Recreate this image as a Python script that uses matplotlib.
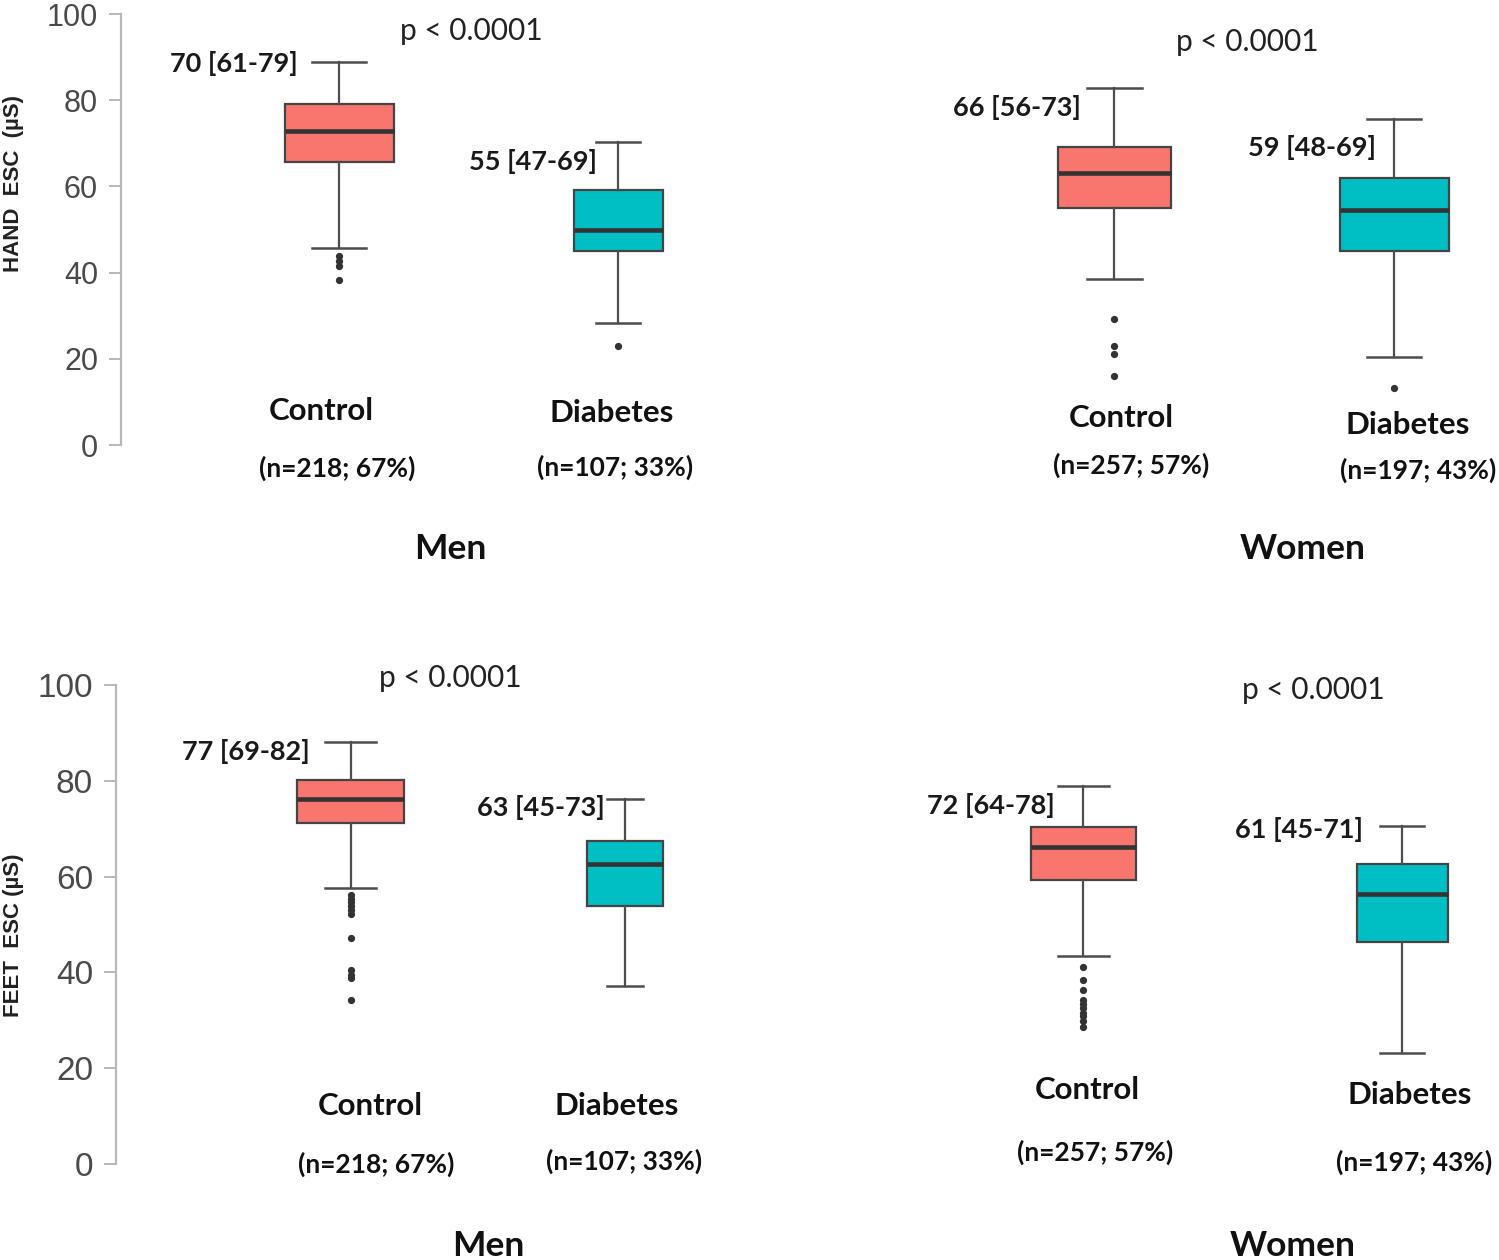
import matplotlib
matplotlib.use("Agg")
import matplotlib.pyplot as plt

W, H = 1499, 1260

groups = ["Control", "Diabetes"]
box_colors = ["#F8766D", "#00BFC4"]
yticks = [0, 20, 40, 60, 80, 100]
p_text = "p < 0.0001"

# [whislo, q1, med, q3, whishi] (µS)
hand_men = [[45.8, 65.7, 72.9, 79.2, 88.8], [28.4, 45.0, 49.9, 59.2, 70.4]]
hand_men_out = [[43.9, 42.8, 41.5, 38.3], [23.0]]
hand_women = [[38.4, 55.1, 63.2, 69.2, 82.9], [20.4, 44.9, 54.5, 61.9, 75.6]]
hand_women_out = [[29.2, 22.9, 21.1, 16.0], [13.2]]
feet_men = [[57.7, 71.1, 76.3, 80.1, 88.0], [37.2, 53.9, 62.7, 67.5, 76.3]]
feet_men_out = [[56.2, 55.4, 54.6, 53.8, 53.0, 52.2, 47.2, 40.5, 39.5, 38.8, 34.3], []]
feet_women = [[43.4, 59.2, 66.1, 70.3, 78.9], [23.2, 46.3, 56.3, 62.6, 70.6]]
feet_women_out = [[41.2, 38.5, 36.4, 34.3, 33.5, 32.6, 31.6, 30.8, 29.9, 28.5], []]

summ_hand_men = ["70 [61-79]", "55 [47-69]"]
summ_hand_women = ["66 [56-73]", "59 [48-69]"]
summ_feet_men = ["77 [69-82]", "63 [45-73]"]
summ_feet_women = ["72 [64-78]", "61 [45-71]"]
n_men = ["(n=218; 67%)", "(n=107; 33%)"]
n_women = ["(n=257; 57%)", "(n=197; 43%)"]

TXT = ["Lato", "DejaVu Sans"]
NUM = ["Liberation Sans Narrow", "Liberation Sans", "DejaVu Sans"]

fig = plt.figure(figsize=(W / 100, H / 100), dpi=100)


def ftext(x, y, s, **kw):
    # place text by pixel position in the picture
    kw.setdefault("family", TXT)
    kw.setdefault("va", "center")
    fig.text(x / W, 1 - y / H, s, **kw)


def panel(x0, x1, ytop, ybot, stats, outs, centers, widths, caps, show_axis, tsize):
    ax = fig.add_axes([x0 / W, 1 - ybot / H, (x1 - x0) / W, (ybot - ytop) / H])
    ax.set_xlim(x0, x1)
    ax.set_ylim(0, 100)
    bs = []
    for s, o in zip(stats, outs):
        bs.append(dict(whislo=s[0], q1=s[1], med=s[2], q3=s[3], whishi=s[4], fliers=o))
    res = ax.bxp(bs, positions=centers, widths=widths, capwidths=caps,
                 patch_artist=True, showfliers=True,
                 boxprops=dict(edgecolor="#444444", linewidth=1.6),
                 medianprops=dict(color="#333333", linewidth=3.3, solid_capstyle="butt"),
                 whiskerprops=dict(color="#4d4d4d", linewidth=1.6),
                 capprops=dict(color="#4d4d4d", linewidth=1.8),
                 flierprops=dict(marker="o", markersize=4.2, markerfacecolor="#333333",
                                 markeredgecolor="#333333"))
    for b, c in zip(res["boxes"], box_colors):
        b.set_facecolor(c)
    for art in ax.get_children():
        if hasattr(art, "set_clip_on"):
            art.set_clip_on(False)
    for sp in ["top", "right", "bottom"]:
        ax.spines[sp].set_visible(False)
    ax.set_xticks([])
    ax.patch.set_alpha(0)
    if show_axis:
        ax.spines["left"].set_color("#b8b8b8")
        ax.spines["left"].set_linewidth(1.6)
        ax.set_yticks(yticks)
        ax.tick_params(axis="y", length=8.5, width=1.4, color="#b8b8b8",
                       labelcolor="#4a4a4a", labelsize=tsize, pad=8)
        for lab in ax.get_yticklabels():
            lab.set_family(NUM)
    else:
        ax.spines["left"].set_visible(False)
        ax.set_yticks([])
    return ax


# hand, men
panel(121, 700, 14, 445, hand_men, hand_men_out, [339, 618], [109, 89], [54, 44], True, 22)
# hand, women
panel(900, 1499, 14, 445, hand_women, hand_women_out, [1114, 1394], [113, 109], [55, 54], False, 22)
# feet, men
panel(116, 700, 685, 1164, feet_men, feet_men_out, [350.5, 625], [107, 76], [51, 36], True, 24)
# feet, women
panel(900, 1499, 685, 1164, feet_women, feet_women_out, [1083, 1402], [105, 91], [51, 44], False, 24)

# y labels
yl_kw = dict(rotation=90, ha="center", fontsize=16, fontweight="bold",
             family=["Liberation Sans", "DejaVu Sans"], color="#222222")
ftext(14, 183, "HAND  ESC  (µS)", **yl_kw)
ftext(14, 935, "FEET  ESC (µS)", **yl_kw)

# p values
p_kw = dict(ha="center", fontsize=21.5, color="#222222")
ftext(471, 31, p_text, **p_kw)
ftext(1247, 42, p_text, **p_kw)
ftext(450, 678, p_text, **p_kw)
ftext(1313, 690, p_text, **p_kw)

# median [IQR] labels
lab_kw = dict(ha="right", fontsize=19.5, fontweight="bold", color="#1a1a1a")
ftext(298, 64, summ_hand_men[0], **lab_kw)
ftext(597, 161, summ_hand_men[1], **lab_kw)
ftext(1081, 107, summ_hand_women[0], **lab_kw)
ftext(1376, 148, summ_hand_women[1], **lab_kw)
ftext(310, 751, summ_feet_men[0], **lab_kw)
ftext(605, 807, summ_feet_men[1], **lab_kw)
ftext(1055, 805, summ_feet_women[0], **lab_kw)
ftext(1363, 830, summ_feet_women[1], **lab_kw)

# group names
g_kw = dict(ha="center", fontsize=22.5, fontweight="bold", color="#111111")
ftext(321, 411, groups[0], **g_kw)
ftext(612, 413, groups[1], **g_kw)
ftext(1121, 418, groups[0], **g_kw)
ftext(1408, 425, groups[1], **g_kw)
ftext(370, 1106, groups[0], **g_kw)
ftext(617, 1106, groups[1], **g_kw)
ftext(1087, 1090, groups[0], **g_kw)
ftext(1410, 1095, groups[1], **g_kw)

# counts
n_kw = dict(ha="center", fontsize=19, fontweight="bold", color="#111111")
ftext(337, 468, n_men[0], **n_kw)
ftext(615, 467, n_men[1], **n_kw)
ftext(1131, 465, n_women[0], **n_kw)
ftext(1418, 470, n_women[1], **n_kw)
ftext(376, 1164, n_men[0], **n_kw)
ftext(624, 1161, n_men[1], **n_kw)
ftext(1095, 1152, n_women[0], **n_kw)
ftext(1414, 1162, n_women[1], **n_kw)

# sex headings
s_kw = dict(ha="center", fontsize=25.5, fontweight="bold", color="#111111")
ftext(450, 549, "Men", **s_kw)
ftext(1303, 549, "Women", **s_kw)
ftext(488, 1246, "Men", **s_kw)
ftext(1293, 1246, "Women", **s_kw)

fig.savefig("out.png", dpi=100)
